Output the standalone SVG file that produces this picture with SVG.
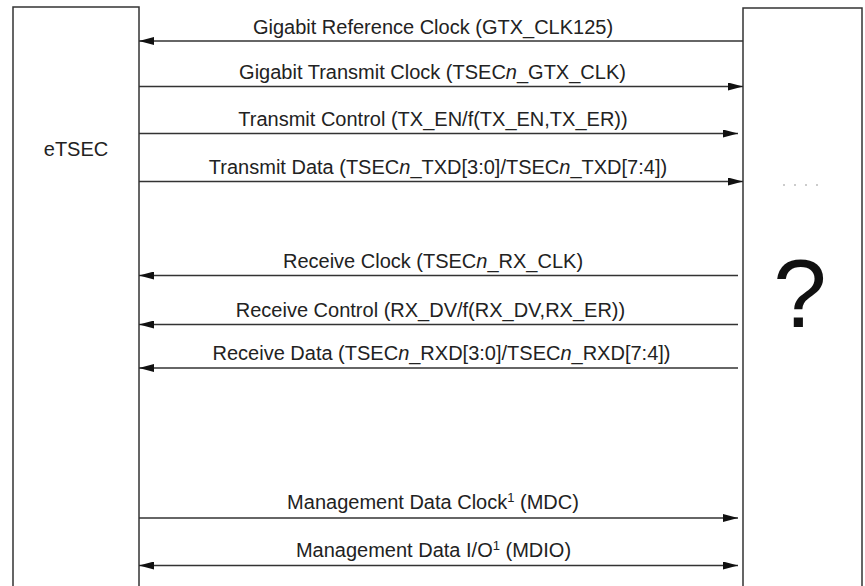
<svg xmlns="http://www.w3.org/2000/svg" width="865" height="586" viewBox="0 0 865 586">
<style>
.box{fill:#fff;stroke:#333;stroke-width:1.5}
.ln{stroke:#333;stroke-width:1.5;fill:none}
.lbl{font-family:"Liberation Sans",Arial,sans-serif;font-size:20px;fill:#222;text-anchor:middle}
.sup{font-size:13px}
.it{font-style:italic}
</style>
<defs>
<marker id="ah" viewBox="0 0 15 8" refX="15" refY="4" markerWidth="15" markerHeight="8" markerUnits="userSpaceOnUse" orient="auto-start-reverse">
<path d="M0,0 L15,4 L0,8 Z" fill="#111"/>
</marker>
</defs>
<rect width="865" height="586" fill="#fff"/>
<g id="etsec">
<rect class="box" x="13" y="7" width="126" height="595"/>
<text class="lbl" x="76" y="156">eTSEC</text>
</g>
<g id="phy">
<rect class="box" x="743" y="8" width="119" height="595"/>
<line x1="783" y1="185" x2="818" y2="185" stroke="#999" stroke-width="1" stroke-dasharray="2,9"/>
<text x="800" y="327" font-family="'Liberation Sans',Arial,sans-serif" font-size="96" fill="#111" text-anchor="middle">?</text>
</g>
<g id="connectors">
<line class="ln" x1="743" y1="41" x2="139" y2="41" marker-end="url(#ah)"/>
<line class="ln" x1="139" y1="86.5" x2="743" y2="86.5" marker-end="url(#ah)"/>
<line class="ln" x1="139" y1="133.5" x2="738" y2="133.5" marker-end="url(#ah)"/>
<line class="ln" x1="139" y1="181.5" x2="743" y2="181.5" marker-end="url(#ah)"/>
<line class="ln" x1="738" y1="275.5" x2="139" y2="275.5" marker-end="url(#ah)"/>
<line class="ln" x1="738" y1="324.5" x2="139" y2="324.5" marker-end="url(#ah)"/>
<line class="ln" x1="738" y1="368" x2="139" y2="368" marker-end="url(#ah)"/>
<line class="ln" x1="139" y1="518" x2="738" y2="518" marker-end="url(#ah)"/>
<line class="ln" x1="139" y1="565.5" x2="738" y2="565.5" marker-start="url(#ah)" marker-end="url(#ah)"/>
</g>
<g id="labels">
<text class="lbl" x="433" y="34">Gigabit Reference Clock (GTX_CLK125)</text>
<text class="lbl" x="432.5" y="79">Gigabit Transmit Clock (TSEC<tspan class="it">n</tspan>_GTX_CLK)</text>
<text class="lbl" x="433" y="126">Transmit Control (TX_EN/f(TX_EN,TX_ER))</text>
<text class="lbl" x="438" y="174">Transmit Data (TSEC<tspan class="it">n</tspan>_TXD[3:0]/TSEC<tspan class="it">n</tspan>_TXD[7:4])</text>
<text class="lbl" x="433" y="268">Receive Clock (TSEC<tspan class="it">n</tspan>_RX_CLK)</text>
<text class="lbl" x="430.5" y="317">Receive Control (RX_DV/f(RX_DV,RX_ER))</text>
<text class="lbl" x="441.5" y="360">Receive Data (TSEC<tspan class="it">n</tspan>_RXD[3:0]/TSEC<tspan class="it">n</tspan>_RXD[7:4])</text>
<text class="lbl" x="433" y="509">Management Data Clock<tspan class="sup" dy="-7">1</tspan><tspan dy="7"> (MDC)</tspan></text>
<text class="lbl" x="433.5" y="557">Management Data I/O<tspan class="sup" dy="-7">1</tspan><tspan dy="7"> (MDIO)</tspan></text>
</g>
</svg>
